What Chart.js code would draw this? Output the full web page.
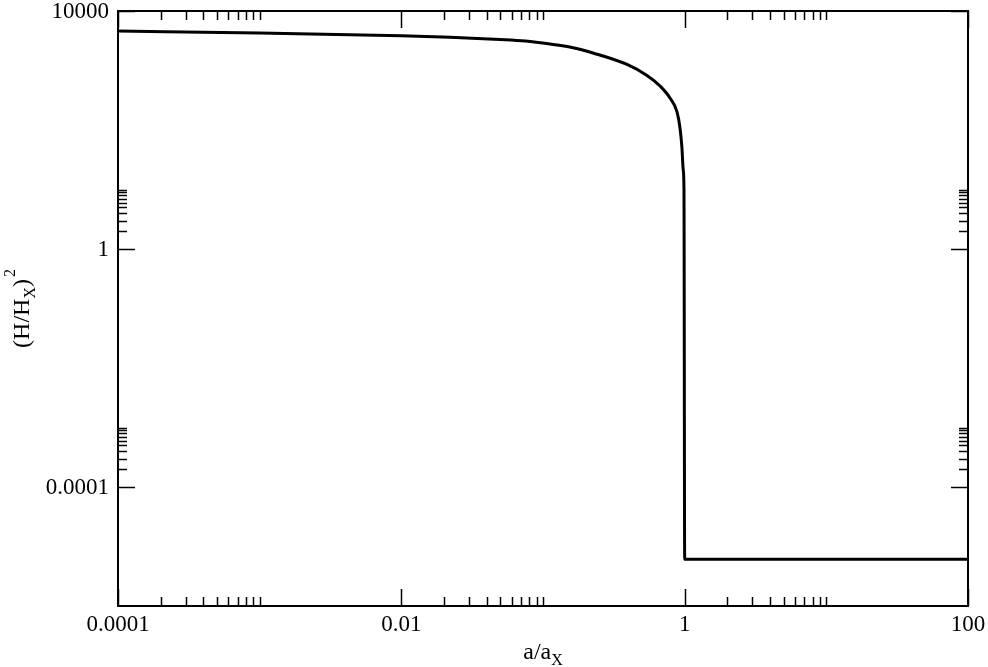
<!DOCTYPE html>
<html>
<head>
<meta charset="utf-8">
<script src="https://cdn.jsdelivr.net/npm/chart.js@4/dist/chart.umd.min.js"></script>
<style>
  html, body { margin: 0; padding: 0; background: #fff; }
  #wrap { width: 988px; height: 667px; position: relative; }
</style>
</head>
<body>
<div id="wrap"><canvas id="hubbleChart"></canvas></div>
<script>
// ============================
// Data
// ============================
const aValues  = [0.0001, 0.001, 0.01, 0.022, 0.0497, 0.075, 0.112, 0.16, 0.2255, 0.392, 0.542, 0.670, 0.788, 0.883, 0.927, 0.957, 0.977, 0.989, 1, 100];
const h2Values = [4610, 4270, 3850, 3610, 3320, 3130, 2790, 2440, 1970, 1262, 824, 548, 345, 201, 108, 49.8, 21.3, 9.8, 6.1e-6, 6.1e-6];

const xTickValues = [0.0001, 0.01, 1, 100];
const xTickLabels = ['0.0001', '0.01', '1', '100'];
const yTickValues = [10000, 1, 0.0001];
const yTickLabels = ['10000', '1', '0.0001'];

// minor ticks: 2..10 times every major tick
const minorMult = [2, 3, 4, 5, 6, 7, 8, 9, 10];

const X_MIN = 0.0001, X_MAX = 100;
const Y_MIN = 1e-6, Y_MAX = 10000;

const SERIF = '"Liberation Serif", "DejaVu Serif", serif';

// ============================
// Frame, inward ticks, labels
// ============================
const framePlugin = {
    id: 'xmFrame',
    afterDatasetsDraw(chart) {
        const { ctx, chartArea: a, scales: { x, y } } = chart;
        ctx.save();
        ctx.strokeStyle = '#000';
        ctx.fillStyle = '#000';

        // frame
        ctx.lineWidth = 2;
        ctx.strokeRect(a.left, a.top, a.right - a.left, a.bottom - a.top);

        const tick = (x0, y0, x1, y1, w) => {
            ctx.lineWidth = w;
            ctx.beginPath();
            ctx.moveTo(x0, y0);
            ctx.lineTo(x1, y1);
            ctx.stroke();
        };

        // x ticks (bottom + top)
        xTickValues.forEach(v => {
            const px = Math.round(x.getPixelForValue(v)) + 0.5;
            tick(px, a.bottom, px, a.bottom - 17, 1.5);
            tick(px, a.top, px, a.top + 17, 1.5);
            minorMult.forEach(m => {
                const mv = v * m;
                if (mv <= X_MIN || mv >= X_MAX) return;
                const mx = Math.round(x.getPixelForValue(mv)) + 0.5;
                tick(mx, a.bottom, mx, a.bottom - 9, 1.5);
                tick(mx, a.top, mx, a.top + 9, 1.5);
            });
        });

        // y ticks (left + right)
        yTickValues.forEach(v => {
            const py = Math.round(y.getPixelForValue(v)) + 0.5;
            tick(a.left, py, a.left + 17, py, 1.5);
            tick(a.right, py, a.right - 17, py, 1.5);
            minorMult.forEach(m => {
                const mv = v * m;
                if (mv <= Y_MIN || mv >= Y_MAX) return;
                const my = Math.round(y.getPixelForValue(mv)) + 0.5;
                tick(a.left, my, a.left + 9, my, 1.5);
                tick(a.right, my, a.right - 9, my, 1.5);
            });
        });

        // tick labels
        ctx.font = `23px ${SERIF}`;
        ctx.textAlign = 'center';
        ctx.textBaseline = 'alphabetic';
        xTickValues.forEach((v, i) => {
            ctx.fillText(xTickLabels[i], x.getPixelForValue(v), a.bottom + 25);
        });
        ctx.textAlign = 'right';
        ctx.textBaseline = 'middle';
        yTickValues.forEach((v, i) => {
            ctx.fillText(yTickLabels[i], a.left - 9, y.getPixelForValue(v) + 1);
        });

        // x title: a/a_X
        ctx.textBaseline = 'alphabetic';
        ctx.textAlign = 'left';
        const big = `24px ${SERIF}`, small = `16px ${SERIF}`;
        ctx.font = big;
        const wA = ctx.measureText('a/a').width;
        ctx.font = small;
        const wX = ctx.measureText('X').width;
        const cx = (a.left + a.right) / 2;
        let sx = cx - (wA + wX) / 2;
        ctx.font = big;
        ctx.fillText('a/a', sx, 659);
        ctx.font = small;
        ctx.fillText('X', sx + wA, 665);

        // y title: (H/H_X)^2, rotated
        ctx.translate(29, (a.top + a.bottom) / 2);
        ctx.rotate(-Math.PI / 2);
        ctx.font = big;
        const w1 = ctx.measureText('(H/H').width;
        const w3 = ctx.measureText(')').width;
        ctx.font = small;
        const w2 = ctx.measureText('X').width;
        const w4 = ctx.measureText('2').width;
        let tx = -(w1 + w2 + w3 + w4 + 2) / 2;
        ctx.font = big;
        ctx.fillText('(H/H', tx, 0);
        tx += w1;
        ctx.font = small;
        ctx.fillText('X', tx, 6);
        tx += w2;
        ctx.font = big;
        ctx.fillText(')', tx, 0);
        tx += w3 + 2;
        ctx.font = small;
        ctx.fillText('2', tx, -14);

        ctx.restore();
    }
};

// ============================
// Chart
// ============================
const ctx = document.getElementById('hubbleChart');
const chart = new Chart(ctx.getContext('2d'), {
    type: 'line',
    data: {
        datasets: [{
            data: aValues.map((a, i) => ({ x: a, y: h2Values[i] })),
            borderColor: '#000',
            borderWidth: 3,
            pointRadius: 0,
            cubicInterpolationMode: 'monotone',
            fill: false,
        }]
    },
    options: {
        responsive: true,
        maintainAspectRatio: false,
        animation: false,
        events: [],
        layout: { padding: { left: 118, right: 20, top: 11, bottom: 61 } },
        plugins: {
            legend: { display: false },
            tooltip: { enabled: false },
        },
        scales: {
            x: { type: 'logarithmic', min: X_MIN, max: X_MAX, display: false },
            y: { type: 'logarithmic', min: Y_MIN, max: Y_MAX, display: false },
        }
    },
    plugins: [framePlugin]
});
</script>
</body>
</html>
